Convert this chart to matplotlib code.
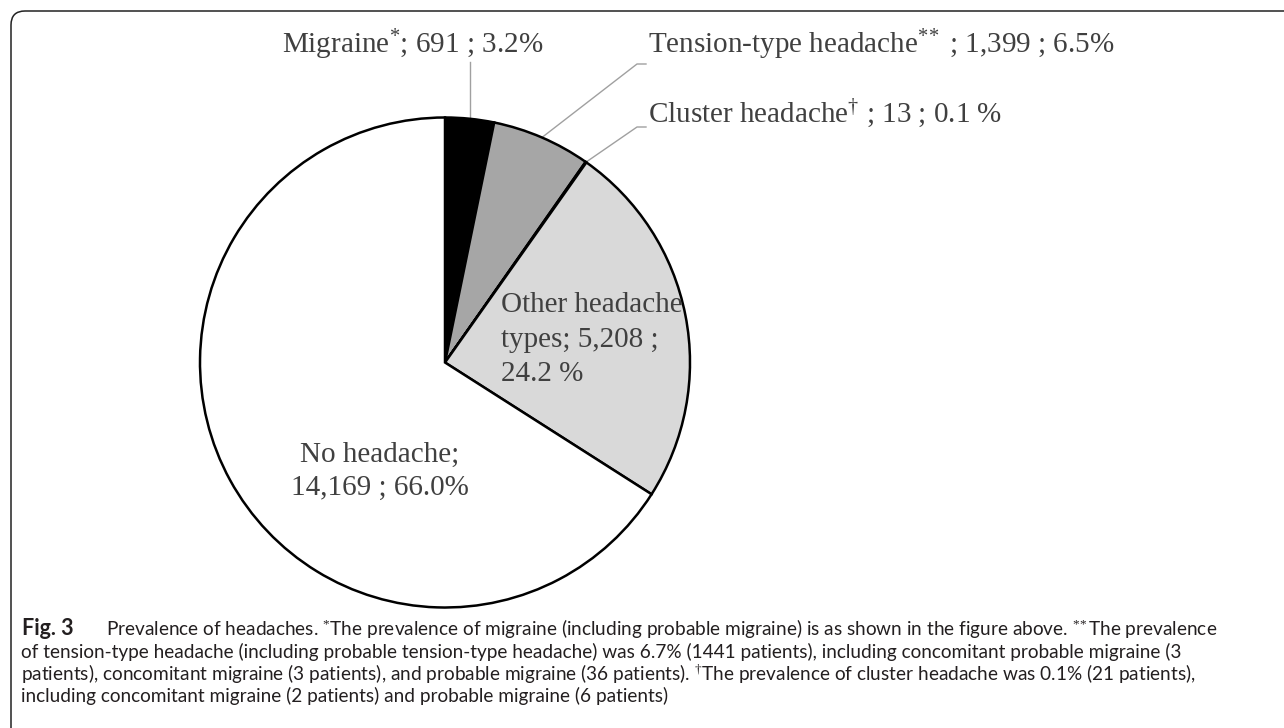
import numpy as np
import matplotlib.pyplot as plt
from matplotlib.patches import FancyBboxPatch

W, H = 1284, 728

# data
labels = ["Migraine", "Tension-type headache", "Cluster headache",
          "Other headache types", "No headache"]
counts = [691, 1399, 13, 5208, 14169]
colors = ["#000000", "#a6a6a6", "#a6a6a6", "#d9d9d9", "#ffffff"]

top_labels = [
    "Migraine$^{*}$; 691 ; 3.2%",
    "Tension-type headache$^{*\\!*}$ ; 1,399 ; 6.5%",
    "Cluster headache$^{\\dagger}$ ; 13 ; 0.1 %",
]
other_lines = ["Other headache", "types; 5,208 ;", "24.2 %"]
none_lines = ["No headache;", "14,169 ; 66.0%"]

caption_head = "Fig. 3"
caption_lines = [
    "Prevalence of headaches. $^{*}$The prevalence of migraine (including probable migraine) "
    "is as shown in the figure above. $^{*\\!*}$The prevalence",
    "of tension-type headache (including probable tension-type headache) was 6.7% (1441 patients), "
    "including concomitant probable migraine (3",
    "patients), concomitant migraine (3 patients), and probable migraine (36 patients). "
    "$^{\\dagger}$The prevalence of cluster headache was 0.1% (21 patients),",
    "including concomitant migraine (2 patients) and probable migraine (6 patients)",
]

plt.rcParams['mathtext.fontset'] = 'custom'
plt.rcParams['mathtext.rm'] = 'Liberation Serif'
plt.rcParams['mathtext.it'] = 'Liberation Serif:italic'

serif = 'Liberation Serif'
sans = 'Lato'
label_color = '#404040'
cap_color = '#231f20'
lead_color = '#a0a0a0'


def py(y):
    # pixel row (from top) -> data y
    return H - y


fig = plt.figure(figsize=(W / 100, H / 100), dpi=100)
ax = fig.add_axes([0, 0, 1, 1])

cx, cy, r = 445, py(362.5), 245
wedges, _ = ax.pie(counts, colors=colors, startangle=90, counterclock=False,
                   center=(cx, cy), radius=r, frame=True,
                   wedgeprops=dict(edgecolor='black', linewidth=1.8))

ax.set_xlim(0, W)
ax.set_ylim(0, H)
ax.set_aspect('equal')
ax.axis('off')

# frame round the figure (cut at right and bottom)
box = FancyBboxPatch((11, -30), W + 40, H - 11 + 30,
                     boxstyle="round,pad=0,rounding_size=14",
                     fill=False, edgecolor='#222222', linewidth=1.1,
                     clip_on=False)
ax.add_patch(box)

# leader lines for the small slices
ends = [[(None, py(62))],
        [(637, py(64)), (646, py(64))],
        [(637, py(127)), (646, py(127))]]
for w, pts in zip(wedges[:3], ends):
    t = np.deg2rad((w.theta1 + w.theta2) / 2)
    x0, y0 = cx + r * np.cos(t), cy + r * np.sin(t)
    xs, ys = [x0], [y0]
    for px, pyy in pts:
        xs.append(x0 if px is None else px)
        ys.append(pyy)
    ax.plot(xs, ys, color=lead_color, lw=1.0, zorder=0.5)

fs = 21
ax.text(413, py(53), top_labels[0], ha='center', va='baseline',
        fontsize=fs, family=serif, color=label_color)
ax.text(648, py(53), top_labels[1], ha='left', va='baseline',
        fontsize=fs, family=serif, color=label_color)
ax.text(648, py(123), top_labels[2], ha='left', va='baseline',
        fontsize=fs, family=serif, color=label_color)

for line, yb in zip(other_lines, [312, 347, 381]):
    ax.text(501, py(yb), line, ha='left', va='baseline',
            fontsize=fs, family=serif, color=label_color)
for line, yb in zip(none_lines, [462, 495]):
    ax.text(380, py(yb), line, ha='center', va='baseline',
            fontsize=fs, family=serif, color=label_color)

# caption
cfs = 13.7
ax.text(22, py(635), caption_head, ha='left', va='baseline',
        fontsize=15.5, family=sans, weight='bold', color=cap_color)
ax.text(106, py(635), caption_lines[0], ha='left', va='baseline',
        fontsize=cfs, family=sans, color=cap_color)
for line, yb in zip(caption_lines[1:], [658, 680, 702]):
    ax.text(21, py(yb), line, ha='left', va='baseline',
            fontsize=cfs, family=sans, color=cap_color)

fig.savefig('out.png', dpi=100)
